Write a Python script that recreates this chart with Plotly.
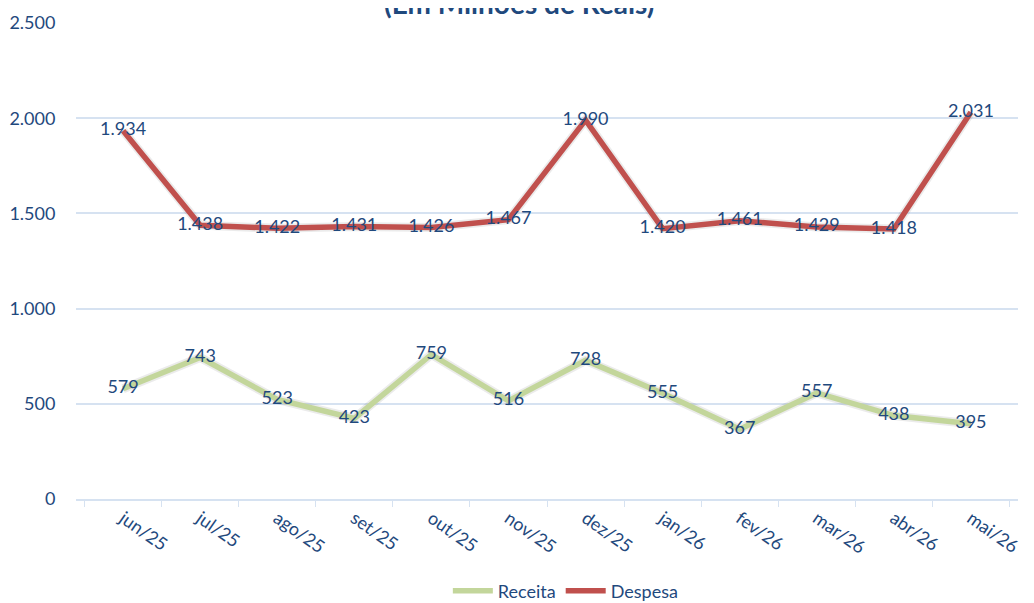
import plotly.graph_objects as go

months = ["jun/25", "jul/25", "ago/25", "set/25", "out/25", "nov/25", "dez/25",
          "jan/26", "fev/26", "mar/26", "abr/26", "mai/26"]
receita = [579, 743, 523, 423, 759, 516, 728, 555, 367, 557, 438, 395]
despesa = [1934, 1438, 1422, 1431, 1426, 1467, 1990, 1420, 1461, 1429, 1418, 2031]

TXT = "#1f497d"
GRID = "#d6e2f1"
FONT = "Lato, 'Open Sans', sans-serif"

fig = go.Figure()
for name, vals, col in [("Receita", receita, "#c3d69b"), ("Despesa", despesa, "#c0504d")]:
    fig.add_trace(go.Scatter(x=months, y=vals, mode="lines", showlegend=False,
                             hoverinfo="skip",
                             line=dict(color="rgba(0,0,0,0.08)", width=9)))
    fig.add_trace(go.Scatter(x=months, y=vals, name=name, mode="lines+text",
                             line=dict(color=col, width=5.5),
                             text=vals, texttemplate="%{y:,}",
                             textposition="middle center",
                             textfont=dict(family=FONT, size=18, color=TXT)))

fig.add_annotation(text="<b>(Em Milhões de Reais)</b>", xref="paper", yref="paper",
                   x=0.47, y=1.0, yshift=1, xanchor="center", yanchor="bottom",
                   showarrow=False, font=dict(family=FONT, size=28, color=TXT))

fig.update_layout(
    width=1026, height=595,
    margin=dict(l=68, r=16, t=15, b=104, autoexpand=False),
    paper_bgcolor="white", plot_bgcolor="white",
    separators=",.",
    font=dict(family=FONT, size=17, color=TXT),
    showlegend=True,
    legend=dict(orientation="h", x=0.52, xanchor="center", yref="container",
                y=0.02, yanchor="middle",
                font=dict(family=FONT, size=18, color=TXT), itemwidth=40,
                traceorder="normal"),
    xaxis=dict(type="category", showgrid=False, showline=True, linecolor=GRID,
               linewidth=2, ticks="outside", tickcolor=GRID, ticklen=6,
               tickson="boundaries", tickangle=35, automargin=False,
               tickfont=dict(family=FONT, size=18, color=TXT)),
    yaxis=dict(range=[0, 2500], dtick=500, tickformat=",", showgrid=True,
               gridcolor=GRID, gridwidth=2, zeroline=False, showline=False,
               ticks="outside", ticklen=16, tickcolor="rgba(0,0,0,0)",
               automargin=False,
               tickfont=dict(family=FONT, size=18, color=TXT)),
)

fig.write_html("out.html")
